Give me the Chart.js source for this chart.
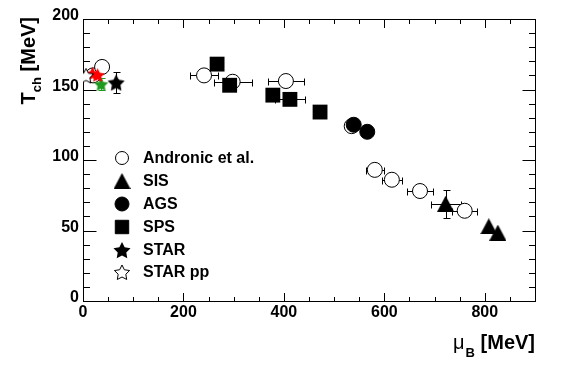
<!DOCTYPE html>
<html>
<head>
<meta charset="utf-8">
<script src="https://cdn.jsdelivr.net/npm/chart.js@4.4.1/dist/chart.umd.min.js"></script>
<style>
  html, body { margin: 0; padding: 0; background: #fff; }
  #wrap { width: 564px; height: 377px; position: relative; }
</style>
</head>
<body>
<div id="wrap"><canvas id="freezeout"></canvas></div>
<script>
// --- chemical freeze-out points: mu_B [MeV] vs T_ch [MeV] ---
const andronicMu = [20, 38, 241, 298, 404, 535, 581, 615, 671, 760];
const andronicT = [160, 166, 160, 155.5, 156, 124, 93, 86, 78, 64];
const andronicMuErr = [4, 4, 28, 38, 36, 8, 18, 20, 26, 25];

const sisMu = [722, 808, 826];
const sisT = [69, 53, 48.5];
const sisMuErr = [30, 0, 0];
const sisTErr = [10, 0, 0];

const agsMu = [539, 566];
const agsT = [125, 120];

const spsMu = [267, 292, 378, 412, 472];
const spsT = [168, 153, 146, 143, 134];
const spsMuErr = [0, 0, 0, 30, 0];

const starMu = [66];
const starT = [155];
const starMuErr = [4];
const starTErr = [7.5];

const starRedMu = [19, 29];
const starRedT = [161.5, 160.5];
const starRedTErr = [4, 4];

const starGreenMu = [36];
const starGreenT = [154];
const starGreenTErr = [4];

const starPpMu = [6];
const starPpT = [160];

const xMajor = [0, 200, 400, 600, 800];
const yMajor = [0, 50, 100, 150, 200];
const xMinorStep = 50;
const yMinorStep = 10;

const legendNames = ['Andronic et al.', 'SIS', 'AGS', 'SPS', 'STAR', 'STAR pp'];

const FONT = '"Liberation Sans", Arial, Helvetica, sans-serif';

function pts(xs, ys) {
  return xs.map((x, i) => ({ x: x, y: ys[i] }));
}

// marker images (ROOT-like full/open star and full triangle)
function starMarker(size, fill, stroke) {
  const c = document.createElement('canvas');
  c.width = c.height = size + 2;
  const g = c.getContext('2d');
  const cx = (size + 2) / 2, R = size / 2, r = R * 0.5;
  g.beginPath();
  for (let i = 0; i < 10; i++) {
    const a = -Math.PI / 2 + (i * Math.PI) / 5;
    const rad = i % 2 ? r : R;
    g.lineTo(cx + rad * Math.cos(a), cx + 1 + rad * Math.sin(a));
  }
  g.closePath();
  if (fill) { g.fillStyle = fill; g.fill(); }
  if (stroke) { g.strokeStyle = stroke; g.lineWidth = 1; g.stroke(); }
  return c;
}
function triangleMarker(w, h) {
  const c = document.createElement('canvas');
  c.width = w; c.height = h;
  const g = c.getContext('2d');
  g.beginPath();
  g.moveTo(w / 2, 0);
  g.lineTo(w, h);
  g.lineTo(0, h);
  g.closePath();
  g.fillStyle = '#000';
  g.fill();
  return c;
}

const triImg = triangleMarker(17, 16);
const starImg = starMarker(18, '#000');
const starRedImg = starMarker(15, '#ff0000');
const starGreenImg = starMarker(15, '#1f9a1f');
const starOpenImg = starMarker(16, '#fff', '#000');

// error bars with end caps, drawn under the markers
const errorBars = {
  id: 'errorBars',
  beforeDatasetsDraw(chart) {
    const { ctx } = chart;
    const xs = chart.scales.x, ys = chart.scales.y;
    chart.data.datasets.forEach((ds) => {
      if (!ds.xErr && !ds.yErr) return;
      ctx.save();
      ctx.strokeStyle = ds.errColor || '#000';
      ctx.lineWidth = 1;
      ds.data.forEach((p, i) => {
        const px = Math.round(xs.getPixelForValue(p.x)) + 0.5;
        const py = Math.round(ys.getPixelForValue(p.y)) + 0.5;
        const ex = ds.xErr ? ds.xErr[i] : 0;
        const ey = ds.yErr ? ds.yErr[i] : 0;
        ctx.beginPath();
        if (ex) {
          const x0 = Math.round(xs.getPixelForValue(p.x - ex)) + 0.5;
          const x1 = Math.round(xs.getPixelForValue(p.x + ex)) + 0.5;
          ctx.moveTo(x0, py); ctx.lineTo(x1, py);
          ctx.moveTo(x0, py - 3); ctx.lineTo(x0, py + 4);
          ctx.moveTo(x1, py - 3); ctx.lineTo(x1, py + 4);
        }
        if (ey) {
          const y0 = Math.round(ys.getPixelForValue(p.y - ey)) + 0.5;
          const y1 = Math.round(ys.getPixelForValue(p.y + ey)) + 0.5;
          ctx.moveTo(px, y0); ctx.lineTo(px, y1);
          ctx.moveTo(px - 3, y0); ctx.lineTo(px + 4, y0);
          ctx.moveTo(px - 3, y1); ctx.lineTo(px + 4, y1);
        }
        ctx.stroke();
      });
      ctx.restore();
    });
  },
};

// ROOT style frame: box with inward ticks on all four sides, bold labels
const rootFrame = {
  id: 'rootFrame',
  beforeDatasetsDraw(chart) {
    const { ctx, chartArea: a } = chart;
    const xs = chart.scales.x, ys = chart.scales.y;
    const L = Math.round(a.left) + 0.5, R = Math.round(a.right) + 0.5;
    const T = Math.round(a.top) + 0.5, B = Math.round(a.bottom) + 0.5;
    ctx.save();
    ctx.strokeStyle = '#000';
    ctx.lineWidth = 1;
    ctx.strokeRect(L, T, R - L, B - T);
    ctx.beginPath();
    for (let v = xs.min; v <= xs.max; v += xMinorStep) {
      const px = Math.round(xs.getPixelForValue(v)) + 0.5;
      const len = xMajor.includes(v) ? 8.5 : 4.5;
      ctx.moveTo(px, B); ctx.lineTo(px, B - len);
      ctx.moveTo(px, T); ctx.lineTo(px, T + len);
    }
    for (let v = ys.min; v <= ys.max; v += yMinorStep) {
      const py = Math.round(ys.getPixelForValue(v)) + 0.5;
      const len = yMajor.includes(v) ? 13 : 6.5;
      ctx.moveTo(L, py); ctx.lineTo(L + len, py);
      ctx.moveTo(R, py); ctx.lineTo(R - len, py);
    }
    ctx.stroke();

    ctx.fillStyle = '#000';
    ctx.font = 'bold 16px ' + FONT;
    ctx.textAlign = 'center';
    ctx.textBaseline = 'top';
    xMajor.forEach((v) => ctx.fillText(String(v), xs.getPixelForValue(v), a.bottom + 4));
    ctx.textAlign = 'right';
    ctx.textBaseline = 'middle';
    yMajor.forEach((v) => ctx.fillText(String(v), a.left - 4, ys.getPixelForValue(v) - 3));

    // x title: mu_B [MeV], right aligned with the frame
    ctx.textBaseline = 'alphabetic';
    ctx.textAlign = 'left';
    ctx.font = 'bold 20px ' + FONT;
    const unit = ' [MeV]';
    const wUnit = ctx.measureText(unit).width;
    ctx.font = '20px ' + FONT;
    const wMu = ctx.measureText('\u03bc').width;
    ctx.font = 'bold 13px ' + FONT;
    const wSub = ctx.measureText('B').width;
    let x0 = a.right - wUnit - wSub - wMu - 1;
    ctx.font = '20px ' + FONT;
    ctx.fillText('\u03bc', x0, 349);
    ctx.font = 'bold 13px ' + FONT;
    ctx.fillText('B', x0 + wMu + 1, 357);
    ctx.font = 'bold 20px ' + FONT;
    ctx.fillText(unit, x0 + wMu + wSub + 1, 349);

    // y title: T_ch [MeV], rotated, right aligned with the top
    ctx.save();
    ctx.translate(35, a.top - 2);
    ctx.rotate(-Math.PI / 2);
    ctx.font = 'bold 20px ' + FONT;
    const wT = ctx.measureText('T').width;
    ctx.font = 'bold 13px ' + FONT;
    const wCh = ctx.measureText('ch').width;
    ctx.font = 'bold 20px ' + FONT;
    const wU = ctx.measureText(unit).width;
    let s = -(wT + wCh + wU);
    ctx.fillText('T', s, 0);
    ctx.font = 'bold 13px ' + FONT;
    ctx.fillText('ch', s + wT, 6);
    ctx.font = 'bold 20px ' + FONT;
    ctx.fillText(unit, s + wT + wCh, 0);
    ctx.restore();
    ctx.restore();
  },
};

// legend inside the frame
const legendRows = [158, 181, 204, 227, 250, 272];
const freezeLegend = {
  id: 'freezeLegend',
  afterDatasetsDraw(chart) {
    const { ctx } = chart;
    const markers = [
      { pointStyle: 'circle', radius: 6.5, borderWidth: 1, borderColor: '#000', backgroundColor: '#fff' },
      { pointStyle: triImg, radius: 8 },
      { pointStyle: 'circle', radius: 7, borderWidth: 1, borderColor: '#000', backgroundColor: '#000' },
      { pointStyle: 'rect', radius: 9.5, borderWidth: 1, borderColor: '#000', backgroundColor: '#000' },
      { pointStyle: starImg, radius: 8 },
      { pointStyle: starOpenImg, radius: 8 },
    ];
    ctx.save();
    legendNames.forEach((name, i) => {
      const m = markers[i];
      ctx.fillStyle = m.backgroundColor || '#000';
      ctx.strokeStyle = m.borderColor || '#000';
      ctx.lineWidth = m.borderWidth || 1;
      Chart.helpers.drawPoint(ctx, { pointStyle: m.pointStyle, radius: m.radius, rotation: 0, borderWidth: m.borderWidth || 0 }, 122, legendRows[i]);
      ctx.fillStyle = '#000';
      ctx.font = 'bold 16px ' + FONT;
      ctx.textAlign = 'left';
      ctx.textBaseline = 'middle';
      ctx.fillText(name, 143, legendRows[i] + 1);
    });
    ctx.restore();
  },
};

new Chart(document.getElementById('freezeout'), {
  type: 'scatter',
  data: {
    datasets: [
      { label: 'STAR pp', data: pts(starPpMu, starPpT), pointStyle: starOpenImg, order: 1 },
      { label: 'STAR', data: pts(starMu, starT), pointStyle: starImg, xErr: starMuErr, yErr: starTErr, order: 1 },
      { label: 'STAR red', data: pts(starRedMu, starRedT), pointStyle: starRedImg, yErr: starRedTErr, errColor: '#ff0000', order: 1 },
      { label: 'STAR green', data: pts(starGreenMu, starGreenT), pointStyle: starGreenImg, yErr: starGreenTErr, errColor: '#1f9a1f', order: 1 },
      { label: 'SPS', data: pts(spsMu, spsT), pointStyle: 'rect', radius: 10.5, backgroundColor: '#000', borderColor: '#000', borderWidth: 0, xErr: spsMuErr, order: 2 },
      { label: 'AGS', data: pts(agsMu, agsT), pointStyle: 'circle', radius: 7.5, backgroundColor: '#000', borderColor: '#000', borderWidth: 1, order: 2 },
      { label: 'SIS', data: pts(sisMu, sisT), pointStyle: triImg, xErr: sisMuErr, yErr: sisTErr, order: 2 },
      { label: 'Andronic et al.', data: pts(andronicMu, andronicT), pointStyle: 'circle', radius: 7.5, backgroundColor: '#fff', borderColor: '#000', borderWidth: 1, xErr: andronicMuErr, order: 5 },
    ],
  },
  plugins: [rootFrame, errorBars, freezeLegend],
  options: {
    responsive: true,
    maintainAspectRatio: false,
    animation: false,
    events: [],
    layout: { padding: { left: 83, top: 19, right: 29, bottom: 76 } },
    plugins: { legend: { display: false }, tooltip: { enabled: false } },
    scales: {
      x: { type: 'linear', min: 0, max: 900, display: false },
      y: { type: 'linear', min: 0, max: 200, display: false },
    },
  },
});
</script>
</body>
</html>
